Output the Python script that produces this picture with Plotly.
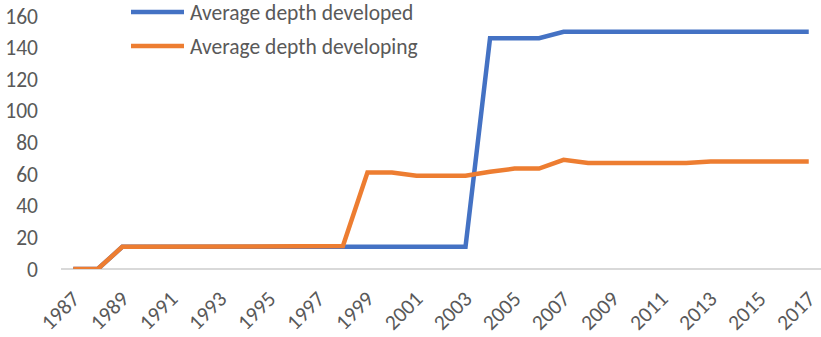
import plotly.graph_objects as go

# Years on the category axis
years = list(range(1987, 2018))

# Average depth of agreements, developed vs developing partners
developed = [0, 0, 14, 14, 14, 14, 14, 14, 14, 14, 14, 14, 14, 14, 14, 14, 14,
             146, 146, 146, 150, 150, 150, 150, 150, 150, 150, 150, 150, 150, 150]
developing = [0, 0, 14, 14, 14, 14, 14, 14, 14, 14, 14, 14.5, 61, 61, 59, 59, 59,
              61.5, 63.5, 63.5, 69, 67, 67, 67, 67, 67, 68, 68, 68, 68, 68]

series_names = ["Average depth developed", "Average depth developing"]
series_colors = ["#4472C4", "#ED7D31"]

# Axis ticks
y_ticks = [0, 20, 40, 60, 80, 100, 120, 140, 160]
x_ticks = list(range(1987, 2018, 2))

FONT = "Calibri, Carlito, 'Liberation Sans', Arial, sans-serif"
FONT_SIZE = 21.5
TEXT_COLOR = "#595959"

fig = go.Figure()
for name, vals, color in zip(series_names, [developed, developing], series_colors):
    fig.add_trace(go.Scatter(
        x=years, y=vals, mode="lines", name=name,
        line=dict(color=color, width=4.5, shape="linear"),
        showlegend=False,
    ))

# Legend drawn as line samples plus labels in the upper-left area
left, width = 61, 760
top, height = 16, 253
def px_x(px):
    return (px - left) / width
def px_y(py):
    return (top + height - py) / height

for i, (name, color) in enumerate(zip(series_names, series_colors)):
    ly = 12 + 34 * i
    fig.add_shape(type="line", xref="paper", yref="paper",
                  x0=px_x(131), x1=px_x(184), y0=px_y(ly), y1=px_y(ly),
                  line=dict(color=color, width=4.5))
    fig.add_annotation(xref="paper", yref="paper", x=px_x(188), y=px_y(ly + 1),
                       text=name, showarrow=False, xanchor="left", yanchor="middle",
                       font=dict(family=FONT, size=FONT_SIZE, color=TEXT_COLOR))

fig.update_layout(
    width=821, height=337,
    margin=dict(l=left, r=821 - left - width, t=top, b=337 - top - height),
    paper_bgcolor="white", plot_bgcolor="white",
    font=dict(family=FONT, size=FONT_SIZE, color=TEXT_COLOR),
)
fig.update_xaxes(
    range=[1986.5, 2017.5], tickmode="array", tickvals=x_ticks,
    ticktext=[str(v) for v in x_ticks], tickangle=-45,
    showgrid=False, zeroline=False, showline=False, ticks="",
    ticklabelstandoff=12, automargin=False,
    tickfont=dict(family=FONT, size=FONT_SIZE, color=TEXT_COLOR),
)
fig.update_yaxes(
    range=[0, 160], tickmode="array", tickvals=y_ticks,
    showgrid=False, zeroline=True, zerolinecolor="#D9D9D9", zerolinewidth=1.5,
    showline=False, ticks="", ticklabelstandoff=22, automargin=False,
    tickfont=dict(family=FONT, size=FONT_SIZE, color=TEXT_COLOR),
)

fig.write_html("out.html")
